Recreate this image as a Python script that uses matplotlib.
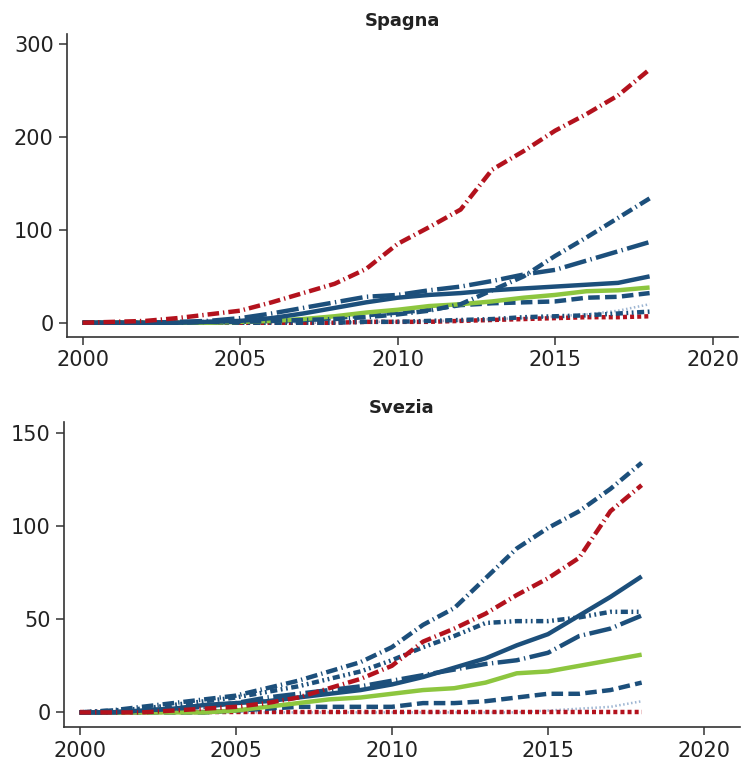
import numpy as np
import matplotlib.pyplot as plt

plt.rcParams['font.family'] = ['DejaVu Sans']

years = np.arange(2000, 2019)

# Spagna
es_red_dashdot = [0, 1, 2, 5, 9, 13, 22, 32, 42, 58, 85, 103, 122, 165, 185, 207, 225, 245, 273]
es_blue_dashdot = [0, 0, 0, 0, 1, 1, 2, 3, 4, 6, 9, 13, 20, 35, 50, 72, 92, 113, 134]
es_blue_longdash = [0, 0, 0, 1, 2, 5, 10, 16, 22, 28, 30, 35, 39, 45, 52, 57, 67, 77, 87]
es_blue_solid = [0, 0, 0, 0, 1, 2, 5, 10, 16, 22, 27, 30, 32, 35, 37, 39, 41, 43, 50]
es_green = [0, 0, 0, 0, 0, 1, 2, 4, 7, 11, 14, 18, 20, 23, 27, 30, 34, 35, 38]
es_blue_dashed = [0, 0, 0, 0, 0, 1, 2, 3, 5, 8, 11, 14, 19, 21, 22, 23, 27, 28, 32]
es_lightblue_dotted = [0, 0, 0, 0, 0, 0, 0, 0, 0, 1, 1, 2, 2, 4, 5, 7, 9, 13, 20]
es_blue_dashdotdot = [0, 0, 0, 0, 0, 0, 0, 0, 0, 1, 1, 2, 3, 4, 6, 7, 8, 10, 12]
es_red_dotted = [0, 0, 0, 0, 0, 0, 0, 0, 0, 1, 1, 1, 2, 3, 4, 5, 6, 6, 7]

# Svezia
se_red_dashdot = [0, 0, 0, 1, 2, 3, 5, 8, 13, 18, 25, 38, 45, 53, 63, 72, 83, 108, 122]
se_blue_dashdot = [0, 1, 3, 5, 7, 9, 13, 17, 22, 27, 35, 47, 56, 72, 88, 99, 108, 120, 134]
se_blue_longdash = [0, 0, 1, 2, 3, 5, 8, 10, 12, 14, 17, 20, 23, 26, 28, 32, 41, 45, 52]
se_blue_solid = [0, 0, 1, 2, 4, 5, 6, 8, 10, 12, 15, 19, 24, 29, 36, 42, 52, 62, 73]
se_green = [0, 0, 0, 0, 0, 1, 3, 5, 7, 8, 10, 12, 13, 16, 21, 22, 25, 28, 31]
se_blue_dashed = [0, 0, 0, 0, 0, 1, 2, 3, 3, 3, 3, 5, 5, 6, 8, 10, 10, 12, 16]
se_lightblue_dotted = [0, 0, 0, 0, 0, 0, 0, 0, 0, 0, 0, 0, 0, 0, 0, 1, 2, 3, 6]
se_blue_dashdotdot = [0, 1, 2, 4, 6, 8, 11, 14, 18, 22, 28, 35, 41, 48, 49, 49, 51, 54, 54]
se_red_dotted = [0] * 19

BLUE = '#1c4f7b'
RED = '#b3121d'
GREEN = '#8dc63f'
LIGHT = '#9db5d2'

styles = {
    'lightblue_dotted': dict(color=LIGHT, lw=1.8, ls=(0, (0.6, 1.0))),
    'red_dotted': dict(color=RED, lw=3.2, ls=(0, (0.9, 0.7))),
    'blue_dashdotdot': dict(color=BLUE, lw=3.2, ls=(0, (1.6, 0.8, 0.4, 0.8, 0.4, 0.8))),
    'blue_dashed': dict(color=BLUE, lw=3.2, ls=(0, (2.6, 1.2))),
    'green': dict(color=GREEN, lw=3.2, ls='-'),
    'blue_solid': dict(color=BLUE, lw=3.2, ls='-'),
    'blue_longdash': dict(color=BLUE, lw=3.2, ls=(0, (5, 1.0, 0.3, 1.0))),
    'blue_dashdot': dict(color=BLUE, lw=3.2, ls=(0, (2.6, 0.9, 0.3, 0.9))),
    'red_dashdot': dict(color=RED, lw=3.2, ls=(0, (2.6, 0.9, 0.3, 0.9))),
}

spagna = {
    'lightblue_dotted': es_lightblue_dotted, 'red_dotted': es_red_dotted,
    'blue_dashdotdot': es_blue_dashdotdot, 'blue_dashed': es_blue_dashed,
    'green': es_green, 'blue_solid': es_blue_solid,
    'blue_longdash': es_blue_longdash, 'blue_dashdot': es_blue_dashdot,
    'red_dashdot': es_red_dashdot,
}
svezia = {
    'lightblue_dotted': se_lightblue_dotted, 'red_dotted': se_red_dotted,
    'blue_dashdotdot': se_blue_dashdotdot, 'blue_dashed': se_blue_dashed,
    'green': se_green, 'blue_solid': se_blue_solid,
    'blue_longdash': se_blue_longdash, 'blue_dashdot': se_blue_dashdot,
    'red_dashdot': se_red_dashdot,
}

fig = plt.figure(figsize=(7.43, 7.6), dpi=100)
ax1 = fig.add_axes([0.090, 0.557, 0.903, 0.398])
ax2 = fig.add_axes([0.086, 0.043, 0.910, 0.402])


def draw(ax, data, title, ylim, yticks, xlim):
    for key, vals in data.items():
        ax.plot(years, vals, solid_capstyle='butt', dash_capstyle='butt', **styles[key])
    ax.set_xlim(*xlim)
    ax.set_ylim(*ylim)
    ax.set_xticks([2000, 2005, 2010, 2015, 2020])
    ax.set_yticks(yticks)
    for s in ['top', 'right']:
        ax.spines[s].set_visible(False)
    for s in ['left', 'bottom']:
        ax.spines[s].set_color('#333333')
        ax.spines[s].set_linewidth(1.2)
    ax.tick_params(axis='both', labelsize=15, length=6, width=1.1, color='#333333',
                   labelcolor='#222222')
    ax.set_title(title, fontsize=13, fontweight='bold', color='#222222', pad=6)


draw(ax1, spagna, 'Spagna', (-15, 311), [0, 100, 200, 300], (1999.5, 2020.8))
draw(ax2, svezia, 'Svezia', (-8, 156), [0, 50, 100, 150], (1999.5, 2021.15))

fig.savefig('out.png', dpi=100)
